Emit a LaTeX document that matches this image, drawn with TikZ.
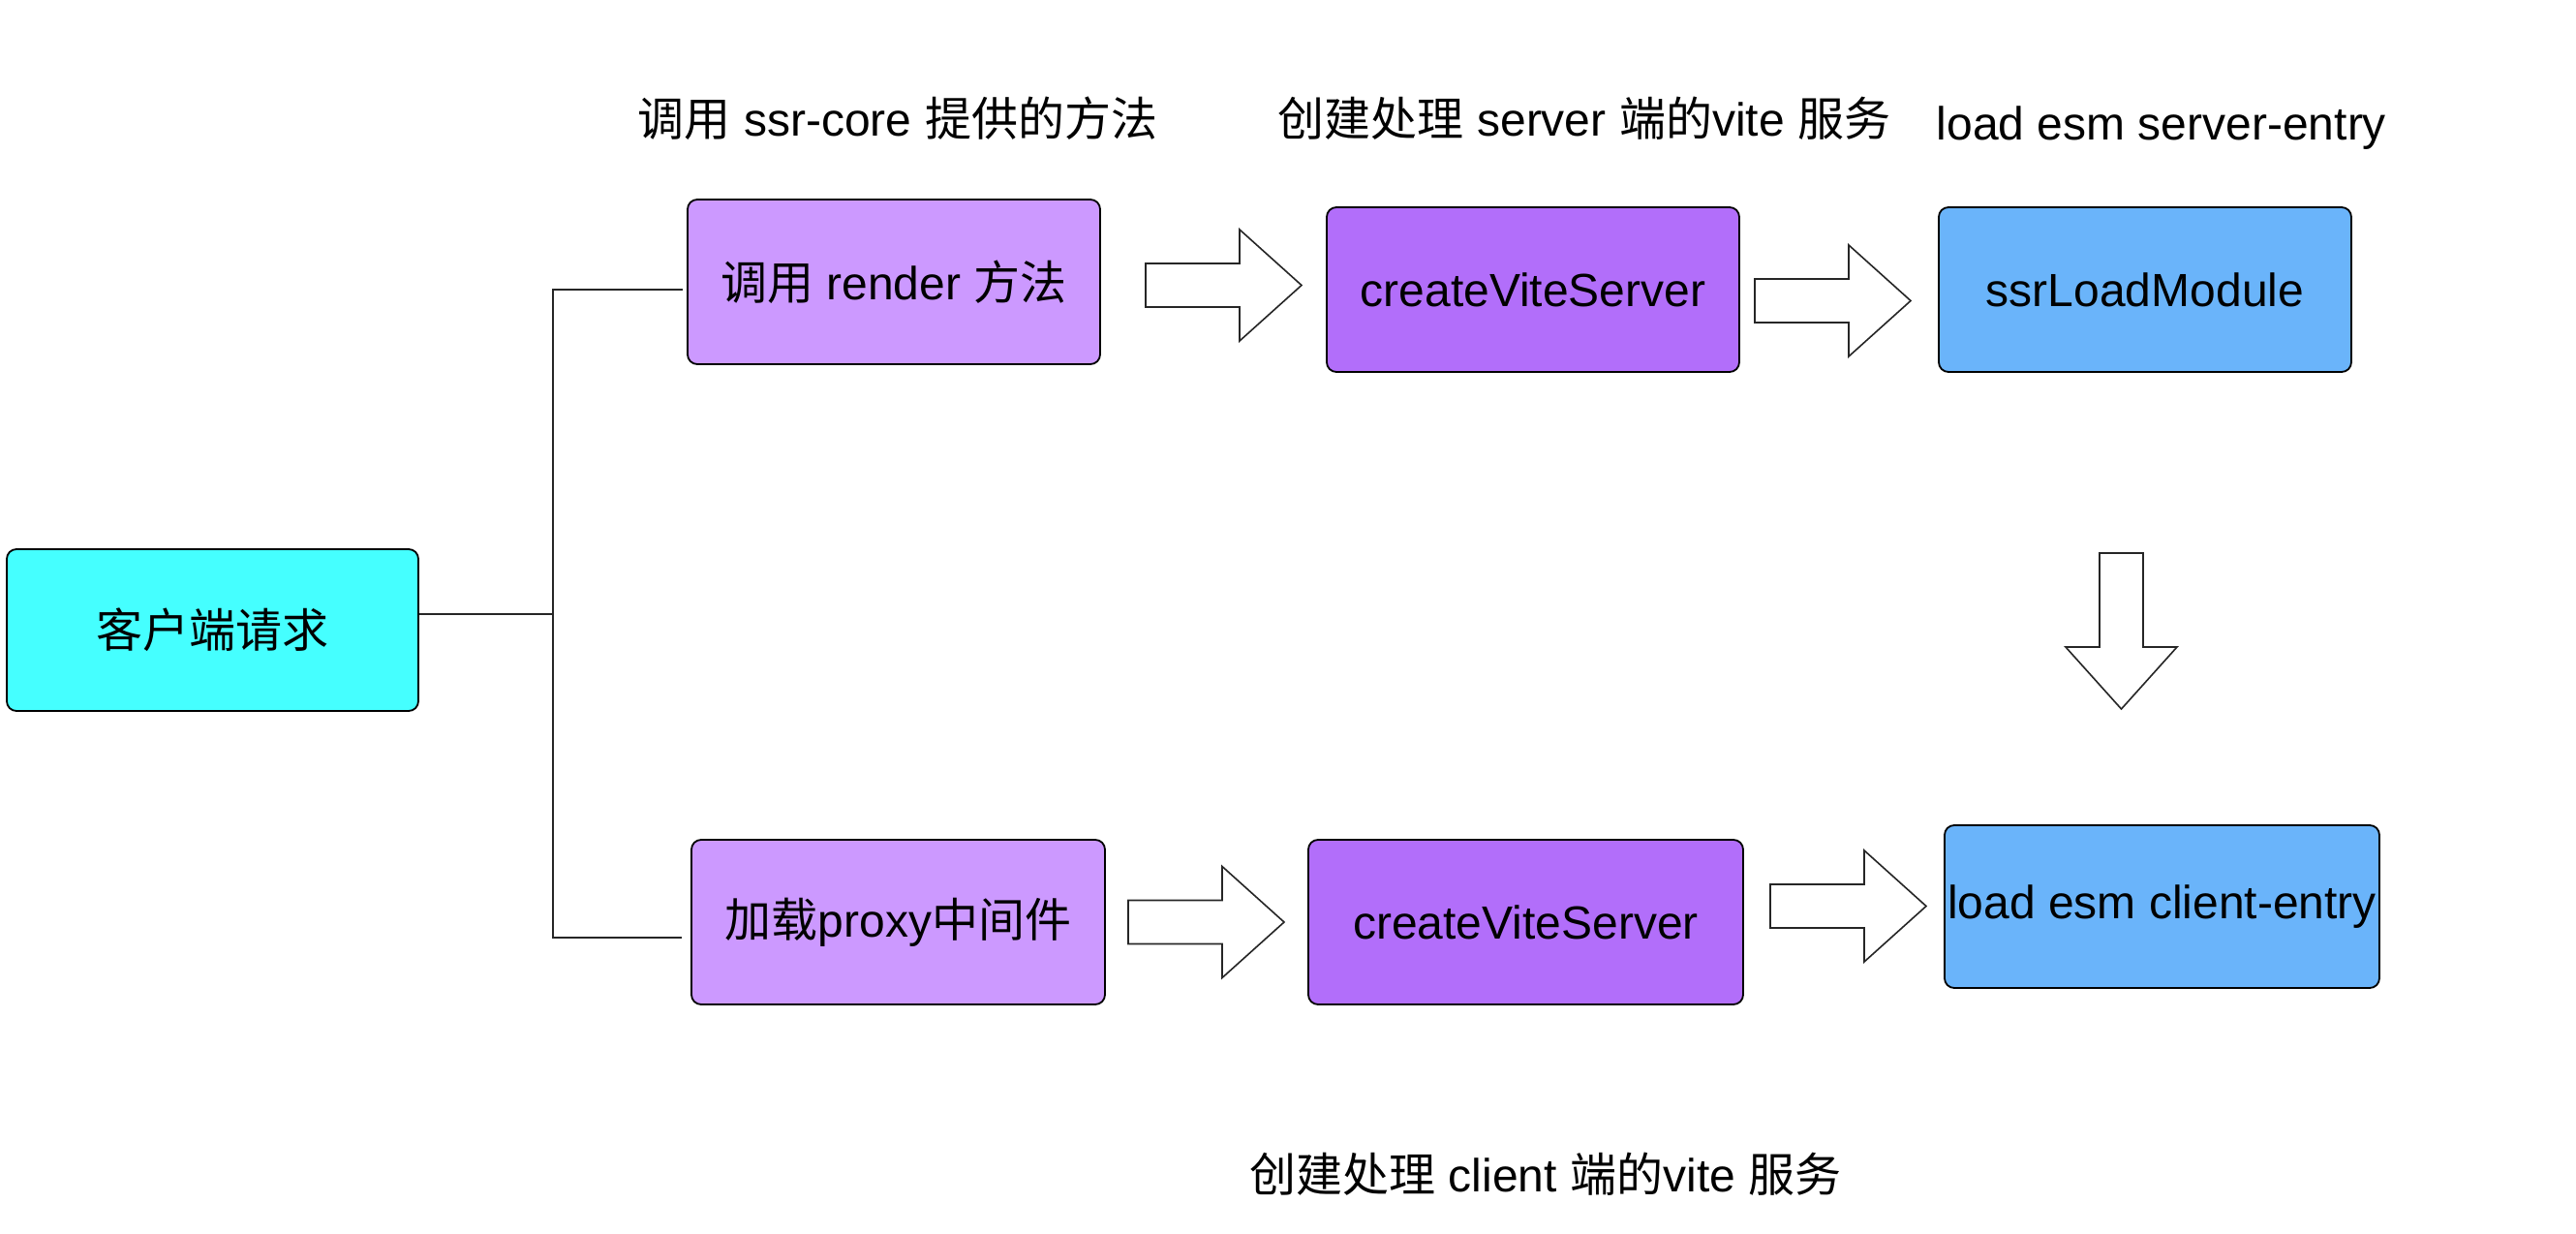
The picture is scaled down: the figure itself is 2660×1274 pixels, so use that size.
\documentclass[tikz,border=0pt]{standalone}
\usepackage{fontspec}
\setmainfont{Liberation Sans}
\newfontfamily\cjk{Noto Sans CJK SC}
\newcommand\zh[1]{{\cjk #1}}
\usetikzlibrary{calc}
\definecolor{cyanbox}{RGB}{69,255,255}
\definecolor{lilac}{RGB}{204,153,255}
\definecolor{violet}{RGB}{178,110,250}
\definecolor{skyblue}{RGB}{106,180,250}
\tikzset{
  box/.style={draw=black, line width=0.45pt, rounded corners=2.5pt, inner sep=0pt,
    minimum height=42.5pt, font=\fontsize{12}{14}\selectfont},
  lbl/.style={font=\fontsize{12}{14}\selectfont, inner sep=0pt},
  conn/.style={draw=black!85, line width=0.5pt},
  barrowline/.style={draw=black!85, fill=white, line width=0.4pt, line join=miter},
  blockarrow/.pic={\draw[barrowline] (0,-22.5) -- (97,-22.5) -- (97,-57.5) -- (161,0) -- (97,57.5) -- (97,22.5) -- (0,22.5) -- cycle;}
}
\begin{document}
\begin{tikzpicture}[x=0.25pt,y=-0.25pt]
\useasboundingbox (0,0) rectangle (2660,1274);
% boxes
\node[box, fill=cyanbox, minimum width=106.25pt, minimum height=41.75pt] (client) at (219.5,650.5) {\zh{客户端请求}};
\node[box, fill=lilac, minimum width=106.5pt] (render) at (923,291) {\zh{调用} render \zh{方法}};
\node[box, fill=violet, minimum width=106.5pt] (cvs1) at (1583,299) {createViteServer};
\node[box, fill=skyblue, minimum width=106.5pt] (ssr) at (2215,299) {ssrLoadModule};
\node[box, fill=lilac, minimum width=106.75pt] (proxy) at (927.5,952) {\zh{加载}proxy\zh{中间件}};
\node[box, fill=violet, minimum width=112.25pt] (cvs2) at (1575.5,952) {createViteServer};
\node[box, fill=skyblue, minimum width=112.25pt, minimum height=42pt] (ce) at (2232.5,936) {load esm client-entry};
% labels
\node[lbl] (l1) at (927,122) {\zh{调用} ssr-core \zh{提供的方法}};
\node[lbl] (l2) at (1636,122) {\zh{创建处理} server \zh{端的}vite \zh{服务}};
\node[lbl] (l3) at (2232,132) {load esm server-entry};
\node[lbl] (l4) at (1596,1212) {\zh{创建处理} client \zh{端的}vite \zh{服务}};
% tree connector
\coordinate (j) at (571,633.5);
\draw[conn] ($(client.east)+(0,-17)$) -- (j);
\draw[conn] ($(render.west)+(-4,8)$) -| (j) |- ($(proxy.west)+(-9,16)$);
% block arrows
\pic at (1183,294.5) {blockarrow};
\pic at (1812,310.5) {blockarrow};
\pic at (1165,952) {blockarrow};
\pic at (1828,935.5) {blockarrow};
\pic[rotate=-90] at (2190.5,571) {blockarrow};
\end{tikzpicture}
\end{document}
